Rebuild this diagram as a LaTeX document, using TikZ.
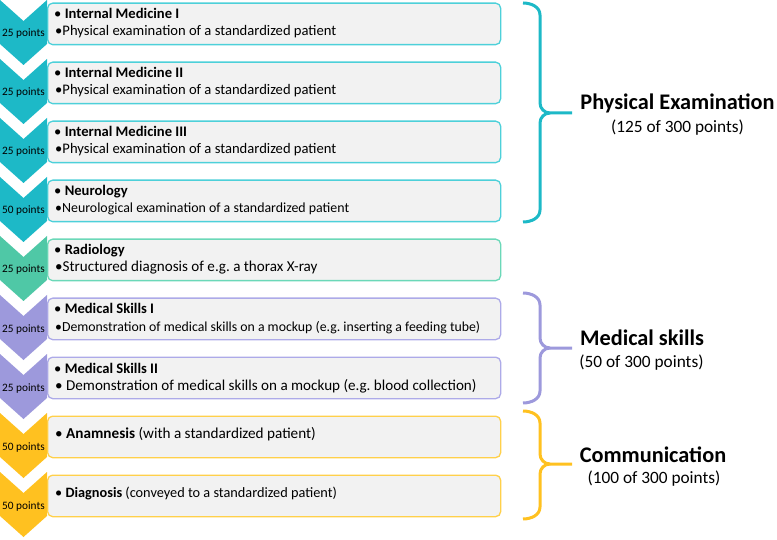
\documentclass[tikz,border=0pt]{standalone}
\usepackage{fontspec}
\setmainfont{Carlito}
\frenchspacing
\definecolor{tealC}{HTML}{1DB9C7}
\definecolor{tealB}{HTML}{4DD0D9}
\definecolor{greenC}{HTML}{4FC8A6}
\definecolor{greenB}{HTML}{6BD8B8}
\definecolor{purpC}{HTML}{9D99DC}
\definecolor{purpB}{HTML}{ADAAE8}
\definecolor{yelC}{HTML}{FFC120}
\definecolor{yelB}{HTML}{FFD04A}
\definecolor{boxfill}{HTML}{F2F2F2}
\tikzset{
  itembox/.style={fill=boxfill, draw=#1, line width=1.3pt, rounded corners=5pt,
    minimum width=453pt, minimum height=41.5pt, anchor=north west, inner sep=0pt},
  ptslabel/.style={font=\fontsize{11.3}{13}\selectfont, anchor=base, inner sep=0pt},
  itemtext/.style={font=\fontsize{#1}{17}\selectfont, anchor=base west, inner sep=0pt},
  itemtext/.default=14.6,
  bracepath/.style={draw=#1, line width=3pt},
  grouptitle/.style={font=\bfseries\fontsize{22.3}{26}\selectfont, anchor=base, inner sep=0pt},
  groupsub/.style={font=\fontsize{17.3}{20}\selectfont, anchor=base, inner sep=0pt}
}
\newcommand\chevshape[2]{%
  \fill[#2] (0,#1) -- (23.5,{#1+21}) -- (47,#1) -- (47,{#1+44}) -- (23.5,{#1+65}) -- (0,{#1+44}) -- cycle;}
\newcommand\tworow[8]{%
  \node[itembox=#4] (#1box) at (47,{#2+2.5}) {};
  \chevshape{#2}{#3}
  \node[ptslabel] (#1pts) at (23.5,{#2+37}) {#5 points};
  \node[itemtext] (#1ttl) at (54,{#2+19}) {• \textbf{#6}};
  \node[itemtext=#8] (#1sub) at (55,{#2+36}) {#7};}
\newcommand\onerow[7]{%
  \node[itembox=#4] (#1box) at (47,{#2+2.5}) {};
  \chevshape{#2}{#3}
  \node[ptslabel] (#1pts) at (23.5,{#2+37.5}) {#5 points};
  \node[itemtext=#7] (#1ttl) at (55,{#2+25}) {#6};}
\begin{document}
\begin{tikzpicture}[x=1pt,y=-1pt]
\useasboundingbox (0,0) rectangle (777,540);
\tworow{r1}{0}{tealC}{tealB}{25}{Internal Medicine I}{•Physical examination of a standardized patient}{14.6}
\tworow{r2}{59}{tealC}{tealB}{25}{Internal Medicine II}{•Physical examination of a standardized patient}{14.6}
\tworow{r3}{118}{tealC}{tealB}{25}{Internal Medicine III}{•Physical examination of a standardized patient}{14.6}
\tworow{r4}{177}{tealC}{tealB}{50}{Neurology}{•Neurological examination of a standardized patient}{13.9}
\tworow{r5}{236}{greenC}{greenB}{25}{Radiology}{•Structured diagnosis of e.g. a thorax X-ray}{15.1}
\tworow{r6}{295}{purpC}{purpB}{25}{Medical Skills I}{•Demonstration of medical skills on a mockup (e.g. inserting a feeding tube)}{13.8}
\tworow{r7}{354}{purpC}{purpB}{25}{Medical Skills II}{• Demonstration of medical skills on a mockup (e.g. blood collection)}{15.1}
\onerow{r8}{413}{yelC}{yelB}{50}{• \textbf{Anamnesis} (with a standardized patient)}{15.2}
\onerow{r9}{472}{yelC}{yelB}{50}{• \textbf{Diagnosis} (conveyed to a standardized patient)}{14.3}
% braces
\coordinate (peTip) at (572,113);
\draw[bracepath=tealC] (523,3) to[out=0,in=90] (540,15) -- (540,103) to[out=-90,in=180] (550,113) -- (peTip);
\draw[bracepath=tealC] (523,222) to[out=0,in=-90] (540,210) -- (540,123) to[out=90,in=180] (550,113);
\coordinate (msTip) at (572,348);
\draw[bracepath=purpC] (523,293) to[out=0,in=90] (540,305) -- (540,338) to[out=-90,in=180] (550,348) -- (msTip);
\draw[bracepath=purpC] (523,403) to[out=0,in=-90] (540,391) -- (540,358) to[out=90,in=180] (550,348);
\coordinate (coTip) at (572,464);
\draw[bracepath=yelC] (523,411) to[out=0,in=90] (540,423) -- (540,454) to[out=-90,in=180] (550,464) -- (coTip);
\draw[bracepath=yelC] (523,519) to[out=0,in=-90] (540,507) -- (540,474) to[out=90,in=180] (550,464);
% group labels
\node[grouptitle] (peT) at (677.5,110) {Physical Examination};
\node[groupsub] (peS) at (677.5,133) {(125 of 300 points)};
\node[grouptitle] (msT) at (642,345) {Medical skills};
\node[groupsub] (msS) at (641.5,367) {(50 of 300 points)};
\node[grouptitle] (coT) at (653,462) {Communication};
\node[groupsub] (coS) at (654,483) {(100 of 300 points)};
\end{tikzpicture}
\end{document}
